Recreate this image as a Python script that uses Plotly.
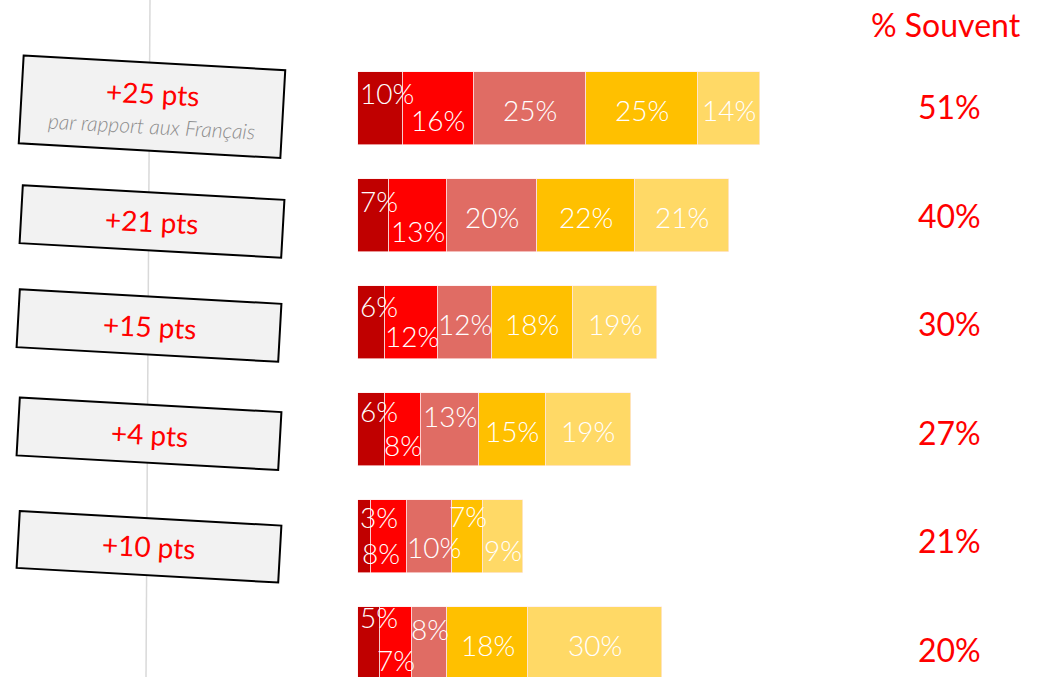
import math
import plotly.graph_objects as go

# ---- data ----
rows = ["r1", "r2", "r3", "r4", "r5", "r6"]
seg1 = [10, 7, 6, 6, 3, 5]
seg2 = [16, 13, 12, 8, 8, 7]
seg3 = [25, 20, 12, 13, 10, 8]
seg4 = [25, 22, 18, 15, 7, 18]
seg5 = [14, 21, 19, 19, 9, 30]
souvent = [51, 40, 30, 27, 21, 20]
box_main = ["+25 pts", "+21 pts", "+15 pts", "+4 pts", "+10 pts"]
box_sub = "par rapport aux Français"
header = "% Souvent"

colors = ["#C00000", "#FF0000", "#E06C64", "#FFC000", "#FFD966"]
series = [seg1, seg2, seg3, seg4, seg5]

# label vertical offsets (px, positive = downward) per row / segment
label_dy = [
    [-16, 11, 1, 1, 1],
    [-15, 15, 1, 1, 1],
    [-17, 13, 1, 1, 1],
    [-19, 15, -14, 1, 1],
    [-20, 16, 10, -21, 13],
    [-27, 16, -15, 1, 1],
]
label_dx = [
    [0, 0, 0, 0, 0],
    [0, 0, 0, 0, 0],
    [0, 0, 0, 0, 0],
    [0, 0, 0, 0, 0],
    [0, -8, 4, 0, 0],
    [0, 0, 0, 0, 0],
]

W, H = 1053, 677
FONT = "Lato"
ypos = list(range(len(rows)))

fig = go.Figure()
for k, vals in enumerate(series):
    fig.add_trace(go.Bar(
        y=ypos, x=vals, orientation="h", width=0.68,
        marker=dict(color=colors[k], line=dict(color="rgba(255,235,235,0.8)", width=0.8)),
        hoverinfo="skip", showlegend=False,
    ))

annotations = []
for i in range(len(rows)):
    cum = 0
    for k, vals in enumerate(series):
        v = vals[i]
        if k == 0:
            annotations.append(dict(
                x=0, y=ypos[i], xref="x", yref="y", text=f"{v}%",
                showarrow=False, xanchor="left", yanchor="middle", xshift=0,
                yshift=-label_dy[i][k],
                font=dict(family=FONT, size=28, color="white", weight=300)))
        else:
            annotations.append(dict(
                x=cum + v / 2, y=ypos[i], xref="x", yref="y", text=f"{v}%",
                showarrow=False, xanchor="center", yanchor="middle",
                xshift=label_dx[i][k], yshift=-label_dy[i][k],
                font=dict(family=FONT, size=28, color="white", weight=300)))
        cum += v
    annotations.append(dict(
        x=132.3, y=ypos[i], xref="x", yref="y", text=f"{souvent[i]}%",
        showarrow=False, xanchor="center", yanchor="middle",
        yshift=-(-2 + 1.6 * i),
        font=dict(family=FONT, size=32, color="#FF0000", weight=400)))

annotations.append(dict(
    x=946 / W, y=1 - 24 / H, xref="paper", yref="paper", text=header,
    showarrow=False, xanchor="center", yanchor="middle",
    font=dict(family=FONT, size=32, color="#FF0000", weight=400)))

# ---- decorative boxes (pixel geometry) ----
boxes = [
    (152, 106.75, 262, 88),
    (152, 221.5, 262, 58),
    (149, 325.5, 262, 58),
    (149, 433.75, 262, 58),
    (149, 546.75, 262, 57),
]
theta = math.radians(3.2)


def px2paper(px, py):
    return px / W, 1 - py / H


shapes = []
# light vertical guide line
x0, y0 = px2paper(150, 0)
x1, y1 = px2paper(146, H)
shapes.append(dict(type="line", xref="paper", yref="paper", x0=x0, y0=y0, x1=x1, y1=y1,
                   line=dict(color="#D9D9D9", width=1.5), layer="below"))

for (cx, cy, bw, bh) in boxes:
    pts = []
    for dx, dy in [(-bw / 2, -bh / 2), (bw / 2, -bh / 2), (bw / 2, bh / 2), (-bw / 2, bh / 2)]:
        rx = cx + dx * math.cos(theta) - dy * math.sin(theta)
        ry = cy + dx * math.sin(theta) + dy * math.cos(theta)
        pts.append(px2paper(rx, ry))
    path = "M " + " L ".join(f"{p[0]:.5f},{p[1]:.5f}" for p in pts) + " Z"
    shapes.append(dict(type="path", xref="paper", yref="paper", path=path,
                       fillcolor="#F2F2F2", line=dict(color="black", width=2), layer="above"))

main_pos = [(153, 93), (152, 221), (150, 326), (149, 434), (149, 546)]
for j, txt in enumerate(box_main):
    px, py = main_pos[j]
    ax, ay = px2paper(px, py)
    annotations.append(dict(
        x=ax, y=ay, xref="paper", yref="paper", text=txt, showarrow=False,
        xanchor="center", yanchor="middle", textangle=3,
        font=dict(family=FONT, size=28, color="#FF0000", weight=400)))
sx, sy = px2paper(151, 125)
annotations.append(dict(
    x=sx, y=sy, xref="paper", yref="paper", text=f"<i>{box_sub}</i>", showarrow=False,
    xanchor="center", yanchor="middle", textangle=3,
    font=dict(family=FONT, size=21, color="#8C8C8C", weight=300)))

px_per = 4.47
xmin = -358 / px_per
xmax = (W - 358) / px_per
ymin = -108.5 / 107
ymax = (H - 108.5) / 107

fig.update_layout(
    width=W, height=H, margin=dict(l=0, r=0, t=0, b=0),
    paper_bgcolor="white", plot_bgcolor="white",
    barmode="stack", bargap=0,
    xaxis=dict(range=[xmin, xmax], visible=False, fixedrange=True),
    yaxis=dict(range=[ymax, ymin], visible=False, fixedrange=True),
    shapes=shapes, annotations=annotations,
)
fig.write_html("out.html", config={"displayModeBar": False},
               post_script="document.body.style.margin='0px';document.body.style.overflow='hidden';")
